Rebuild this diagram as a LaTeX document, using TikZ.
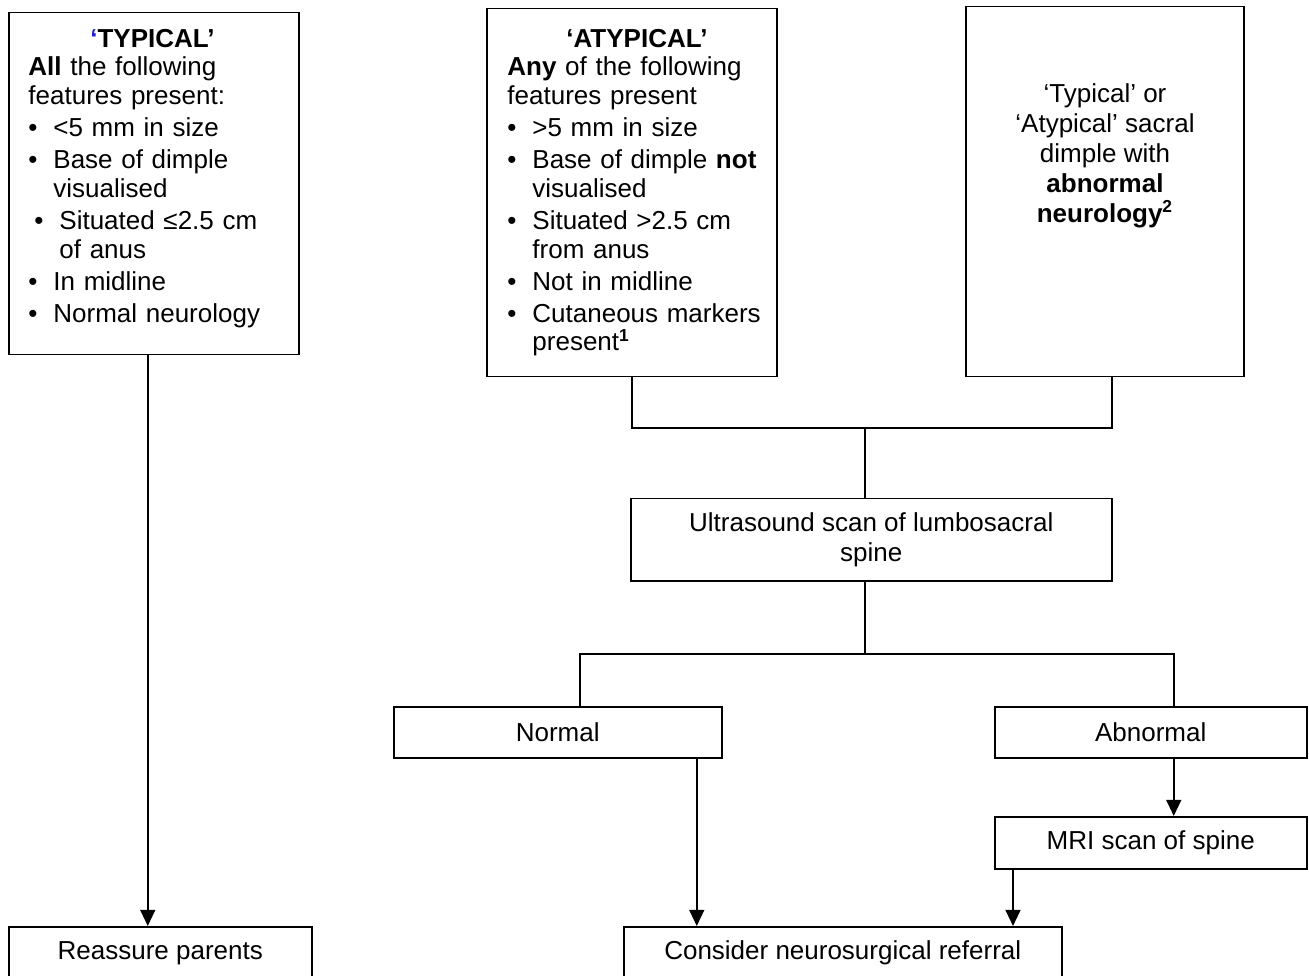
\documentclass[tikz,border=0pt]{standalone}
\usepackage{fontspec}
\setmainfont{Liberation Sans}
\usetikzlibrary{arrows.meta}
\newdimen\px \px=0.4615pt
\definecolor{qblue}{RGB}{30,30,210}
\newcommand\bitem[2][0]{\par\vskip1.6pt\hangindent=\dimexpr25\px+#1\px\relax\hangafter=1\noindent\hbox to\dimexpr25\px+#1\px\relax{\hskip#1\px\textbullet\hfil}#2}
\begin{document}
\begin{tikzpicture}[x=\px,y=-\px,
  box/.style={draw=black,line width=1.5\px,inner sep=0pt,anchor=north west,
    font=\fontsize{12pt}{13.8pt}\selectfont,align=center},
  txt/.style={inner sep=0pt,anchor=north west,font=\fontsize{12pt}{13.2pt}\selectfont,align=left},
  ctxt/.style={inner sep=0pt,anchor=north,font=\fontsize{12pt}{13.8pt}\selectfont,align=center},
  conn/.style={draw=black,line width=1.5\px},
  arr/.style={draw=black,line width=2\px,-{Triangle[width=6.8pt,length=7.4pt]}}]
\fill[white] (0,0) rectangle (1309,976);
\useasboundingbox (0,0) rectangle (1309,976);
% boxes
\node[box,minimum width=290\px,minimum height=342\px] (typ) at (8,12) {};
\node[box,minimum width=290\px,minimum height=368\px] (atyp) at (486,8) {};
\node[box,minimum width=278\px,minimum height=370\px] (third) at (965,6) {};
\node[box,minimum width=481\px,minimum height=82\px] (us) at (630,498) {Ultrasound scan of lumbosacral\\spine};
\node[box,minimum width=328\px,minimum height=51\px] (normal) at (393,706) {Normal};
\node[box,minimum width=312\px,minimum height=51\px] (abn) at (994,706) {Abnormal};
\node[box,minimum width=312\px,minimum height=52\px] (mri) at (994,816) {MRI scan of spine};
\node[box,minimum width=438\px,minimum height=53\px] (cons) at (623,926) {Consider neurosurgical referral};
\node[box,minimum width=303\px,minimum height=53\px] (reas) at (8,926) {Reassure parents};
% texts
\node[txt,text width=248\px] (typtxt) at (28,25.3) {%
{\centering\rule{0pt}{10pt}\textbf{\textcolor{qblue}{‘}TYPICAL’}\par}
\textbf{All} the following\newline features present:
\bitem{<5 mm in size}
\bitem{Base of dimple\newline visualised}
\bitem[6]{Situated ≤2.5 cm\newline of anus}
\bitem{In midline}
\bitem{Normal neurology}\par};
\node[txt,text width=259\px] (atyptxt) at (507,25.3) {%
{\centering\rule{0pt}{10pt}\textbf{‘ATYPICAL’}\par}
\textbf{Any} of the following\newline features present
\bitem{>5 mm in size}
\bitem{Base of dimple \textbf{not}\newline visualised}
\bitem{Situated >2.5 cm\newline from anus}
\bitem{Not in midline}
\bitem{Cutaneous markers\newline present\textsuperscript{\textbf{1}}}\par};
\node[ctxt] (thirdtxt) at (1105,80.3) {\rule{0pt}{10pt}‘Typical’ or\\‘Atypical’ sacral\\dimple with\\\textbf{abnormal}\\\textbf{neurology\textsuperscript{2}}};
% connectors
\coordinate (c1) at (865,428);
\coordinate (c2) at (865,654);
\draw[conn] (atyp.south) |- ([xshift=7\px]third.south |- c1) -- ([xshift=7\px]third.south);
\draw[conn] (c1) -- (c1 |- us.north);
\draw[conn] (c1 |- us.south) -- (c2);
\draw[conn] ([xshift=22\px]normal.north) |- (c2) -| ([xshift=23\px]abn.north);
% arrows
\draw[arr] ([xshift=-6\px]typ.south) -- ([xshift=-6\px]typ.south |- reas.north);
\draw[arr] ([xshift=139\px]normal.south) -- ([xshift=139\px]normal.south |- cons.north);
\draw[arr] ([xshift=23\px]abn.south) -- ([xshift=23\px]abn.south |- mri.north);
\draw[arr] ([xshift=19\px]mri.south west) -- ([xshift=19\px]mri.south west |- cons.north);
\end{tikzpicture}
\end{document}
